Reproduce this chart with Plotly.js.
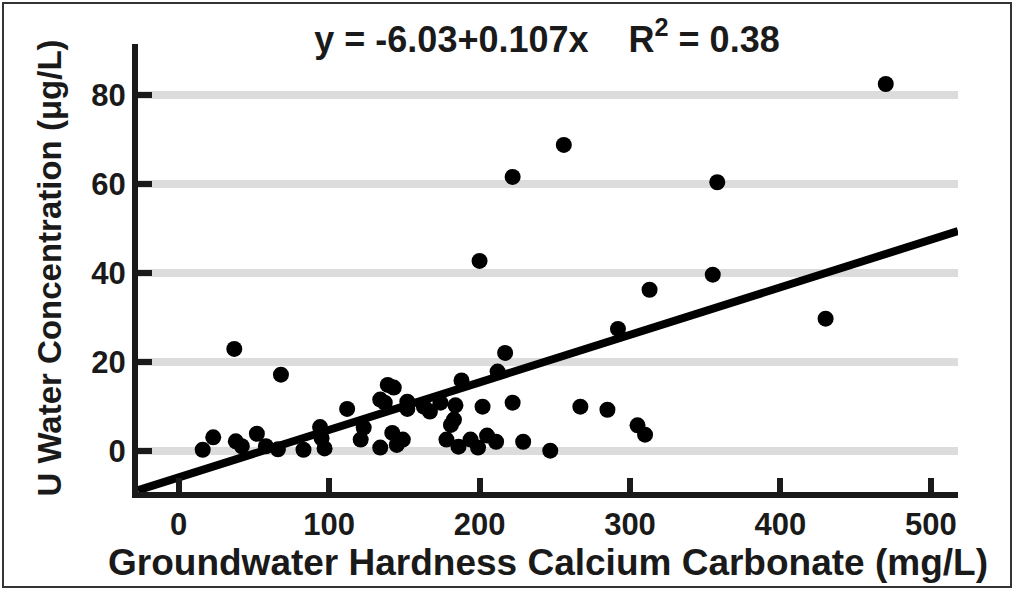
<!DOCTYPE html>
<html>
<head>
<meta charset="utf-8">
<script src="https://cdn.plot.ly/plotly-3.0.1.min.js"></script>
<style>
html,body{margin:0;padding:0;background:#fff;}
#chart{width:1014px;height:590px;}
#frame{position:absolute;left:2px;top:2px;width:1006px;height:582px;border:2px solid #333;pointer-events:none;}
</style>
</head>
<body>
<div id="chart"></div>
<div id="frame"></div>
<script>
const hardness = [470, 256, 222, 358, 200, 355, 313, 430, 292, 37, 217, 68, 212, 188, 139, 143,
  112, 134, 137, 152, 152, 163, 167, 174, 184, 183, 181, 202, 222, 267, 285, 305, 310,
  94, 95, 97, 123, 121, 134, 142, 145, 149, 178, 186, 194, 199, 205, 211, 229, 247,
  16, 23, 38, 42, 52, 58, 66, 83];
const uranium = [82.5, 68.8, 61.6, 60.4, 42.7, 39.6, 36.2, 29.7, 27.4, 22.9, 22.0, 17.1, 17.8, 15.8, 14.8, 14.2,
  9.4, 11.5, 10.8, 11.0, 9.4, 9.9, 8.8, 10.8, 10.2, 7.0, 5.8, 9.9, 10.8, 9.9, 9.2, 5.7, 3.6,
  5.3, 2.8, 0.5, 5.2, 2.5, 0.7, 4.0, 1.3, 2.5, 2.5, 0.9, 2.5, 0.7, 3.4, 2.0, 2.0, 0.0,
  0.2, 3.0, 2.1, 1.0, 3.8, 1.0, 0.3, 0.2];
const intercept = -6.03;
const slope = 0.107;
const rSquared = 0.38;
const fitX = [-27, 518];
const fitY = fitX.map(v => intercept + slope * v);
const xTicks = [0, 100, 200, 300, 400, 500];
const yTicks = [0, 20, 40, 60, 80];

const font = {family: 'Liberation Sans, Arial, sans-serif', color: '#1a1a1a', weight: 'bold'};

const traces = [
  {x: hardness, y: uranium, mode: 'markers', type: 'scatter',
   marker: {color: '#000', size: 16}, hoverinfo: 'skip', cliponaxis: false},
  {x: fitX, y: fitY, mode: 'lines', type: 'scatter',
   line: {color: '#000', width: 8}, hoverinfo: 'skip'}
];

const layout = {
  width: 1014, height: 590,
  margin: {l: 138, r: 56, t: 44, b: 98},
  paper_bgcolor: '#fff', plot_bgcolor: '#fff',
  showlegend: false,
  title: {text: 'y = ' + intercept.toFixed(2) + '+' + slope + 'x&nbsp;&nbsp;&nbsp;&nbsp;R<sup>2</sup> = ' + rSquared.toFixed(2),
    font: Object.assign({}, font, {size: 36}),
    x: 547/1014, xanchor: 'center', xref: 'container',
    y: 1 - 39/590, yanchor: 'middle', yref: 'container'},
  xaxis: {
    range: [-27, 518], tickvals: xTicks, ticktext: xTicks.map(String),
    showgrid: false, zeroline: false,
    showline: true, linecolor: '#1a1a1a', linewidth: 6,
    ticks: 'inside', ticklen: 14, tickwidth: 6, tickcolor: '#1a1a1a',
    tickfont: Object.assign({}, font, {size: 31}),
    title: {text: 'Groundwater Hardness Calcium Carbonate (mg/L)', font: Object.assign({}, font, {size: 37}), standoff: 0}
  },
  yaxis: {
    range: [-9.3, 91.5], tickvals: yTicks, ticktext: yTicks.map(String),
    showgrid: true, gridcolor: '#dcdcdc', gridwidth: 8, zeroline: false,
    showline: true, linecolor: '#1a1a1a', linewidth: 6,
    ticks: 'inside', ticklen: 14, tickwidth: 6, tickcolor: '#1a1a1a',
    tickfont: Object.assign({}, font, {size: 31}),
    title: {text: 'U Water Concentration (μg/L)', font: Object.assign({}, font, {size: 33}), standoff: 22}
  }
};

Plotly.newPlot('chart', traces, layout, {displayModeBar: false, staticPlot: true});
</script>
</body>
</html>
